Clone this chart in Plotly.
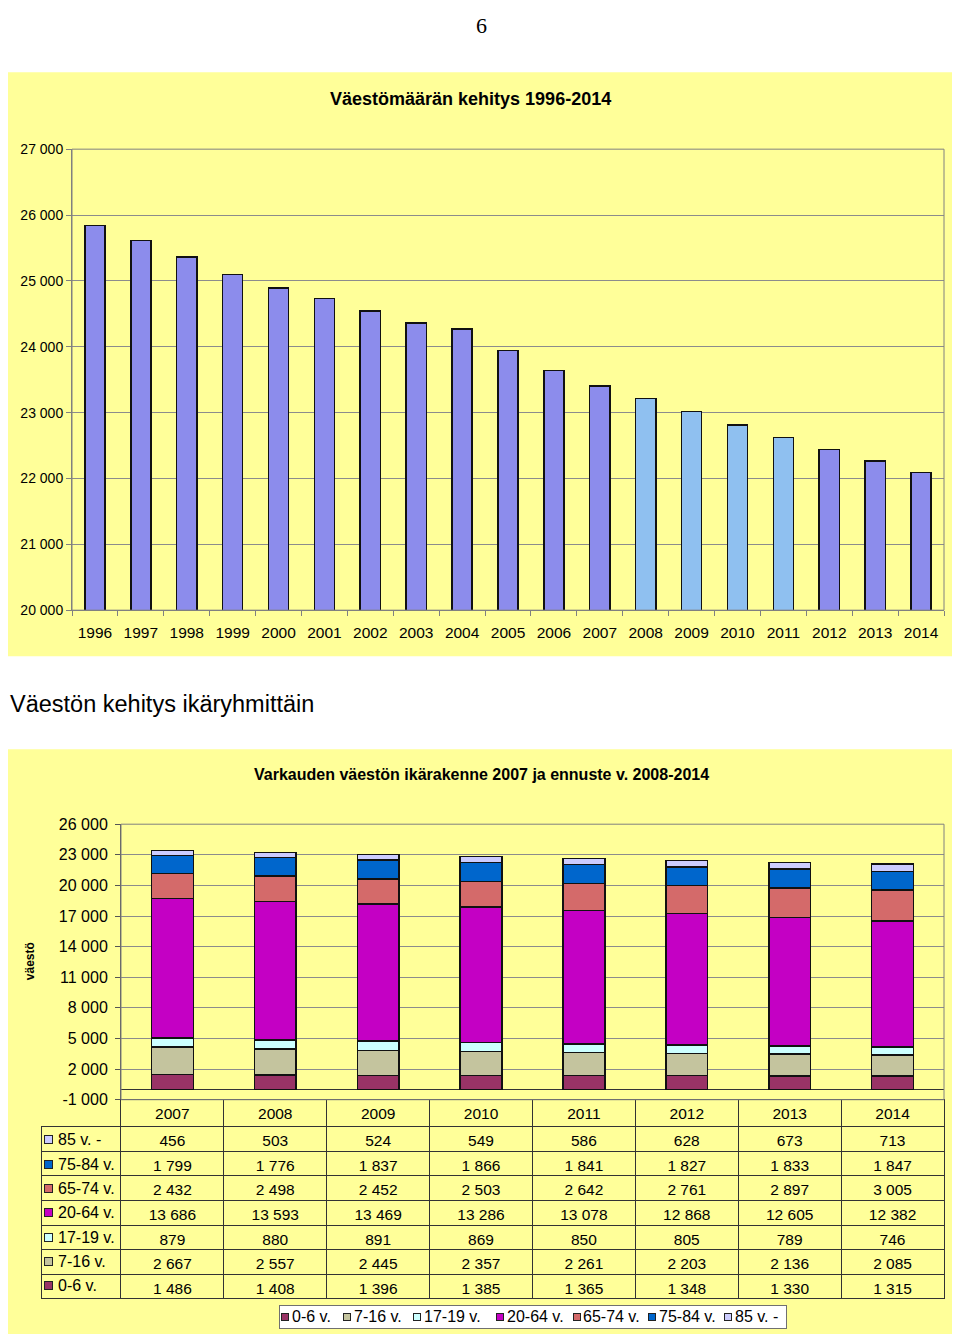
import plotly.graph_objects as go

# ---------------- data ----------------
years_top = ["1996", "1997", "1998", "1999", "2000", "2001", "2002", "2003", "2004", "2005",
             "2006", "2007", "2008", "2009", "2010", "2011", "2012", "2013", "2014"]
population = [25840, 25611, 25360, 25097, 24891, 24731, 24543, 24360, 24269, 23943,
              23640, 23405, 23215, 23014, 22815, 22623, 22440, 22263, 22093]
top_tickvals = [20000, 21000, 22000, 23000, 24000, 25000, 26000, 27000]
top_ticktext = ["20 000", "21 000", "22 000", "23 000", "24 000", "25 000", "26 000", "27 000"]

years_bottom = ["2007", "2008", "2009", "2010", "2011", "2012", "2013", "2014"]
age_groups = ["0-6 v.", "7-16 v.", "17-19 v.", "20-64 v.", "65-74 v.", "75-84 v.", "85 v. -"]
age_0_6 = [1486, 1408, 1396, 1385, 1365, 1348, 1330, 1315]
age_7_16 = [2667, 2557, 2445, 2357, 2261, 2203, 2136, 2085]
age_17_19 = [879, 880, 891, 869, 850, 805, 789, 746]
age_20_64 = [13686, 13593, 13469, 13286, 13078, 12868, 12605, 12382]
age_65_74 = [2432, 2498, 2452, 2503, 2642, 2761, 2897, 3005]
age_75_84 = [1799, 1776, 1837, 1866, 1841, 1827, 1833, 1847]
age_85 = [456, 503, 524, 549, 586, 628, 673, 713]
bottom_tickvals = [-1000, 2000, 5000, 8000, 11000, 14000, 17000, 20000, 23000, 26000]
bottom_ticktext = ["-1 000", "2 000", "5 000", "8 000", "11 000", "14 000", "17 000",
                   "20 000", "23 000", "26 000"]

# ---------------- styling / layout ----------------
OFF = 8                      # default body margin of the page
W, H = 960 - 2 * OFF, 1342 - 2 * OFF
VS, VB = 0.98714, 8.94       # measured vertical scale / shift of the photographed page
FONT = "Liberation Sans, Arial, sans-serif"
PANEL = "#FFFF99"
PLOTBG = "#FFFFCC"
GRID = "#8C8C8C"
series = [age_0_6, age_7_16, age_17_19, age_20_64, age_65_74, age_75_84, age_85]
colors = ["#993366", "#C4C49E", "#CCFFFF", "#C400C4", "#D46A6A", "#0066CC", "#CCCCFF"]

# legend item positions (page pixels): square left edge, text left edge
legend_sq_x = [281, 343, 413, 496, 573, 648, 724]
legend_tx_x = [290, 352, 422, 505, 581, 657, 733]
legend_y = 1317.5
# table geometry (page pixels)
TBL_TOP = 1100.5
HDR_H = 26.5
ROW_H = 24.3


def fx(p):
    return (p - OFF) / W


def fy(p):
    return 1 - ((p - VB) / VS - OFF) / H


def fmt(v):
    return f"{v:,}".replace(",", " ")


fig = go.Figure()

# top chart
bar_colors = ["#8FC0F0" if 2008 <= int(y) <= 2011 else "#8C8CEC" for y in years_top]
fig.add_trace(go.Bar(
    x=years_top, y=population, width=0.44,
    marker=dict(color=bar_colors, line=dict(color="#111111", width=1.5)),
    xaxis="x", yaxis="y", showlegend=False,
))

# bottom stacked chart
for name, vals, col in zip(age_groups, series, colors):
    fig.add_trace(go.Bar(
        x=years_bottom, y=vals, name=name, width=0.405,
        marker=dict(color=col, line=dict(color="#111111", width=1.5)),
        xaxis="x2", yaxis="y2", showlegend=False,
    ))

# data table under the bottom chart
rows_order = list(range(len(age_groups)))[::-1]
value_cols = [[fmt(series[i][j]) for i in rows_order] for j in range(len(years_bottom))]
fig.add_trace(go.Table(
    domain=dict(x=[fx(41), fx(944)], y=[fy(1303), fy(TBL_TOP)]),
    columnwidth=[80] + [103] * len(years_bottom),
    header=dict(
        values=[""] + years_bottom,
        height=HDR_H / VS,
        align="center",
        fill=dict(color=["rgba(0,0,0,0)"] + [PANEL] * len(years_bottom)),
        line=dict(color=["rgba(0,0,0,0)"] + ["#333333"] * len(years_bottom), width=1),
        font=dict(family=FONT, size=15.5, color="black"),
    ),
    cells=dict(
        values=[[""] * len(age_groups)] + value_cols,
        height=ROW_H / VS,
        align="center",
        fill=dict(color=PANEL),
        line=dict(color="#333333", width=1),
        font=dict(family=FONT, size=15.5, color="black"),
    ),
))

annotations = [
    dict(text="6", x=fx(481), y=fy(26), font=dict(family="Liberation Serif, serif", size=22)),
    dict(text="<b>Väestömäärän kehitys 1996-2014</b>", x=fx(470), y=fy(100), font=dict(size=18)),
    dict(text="Väestön kehitys ikäryhmittäin", x=fx(8), y=fy(705), xanchor="left",
         font=dict(size=23.5)),
    dict(text="<b>Varkauden väestön ikärakenne 2007 ja ennuste v. 2008-2014</b>",
         x=fx(481), y=fy(775), font=dict(size=16)),
    dict(text="<b>väestö</b>", x=fx(30), y=fy(962), textangle=-90, font=dict(size=12)),
    # legend box
    dict(text="\u00a0", x=fx(533), y=fy(legend_y), width=506, height=22,
         bgcolor="white", bordercolor="#707070", borderwidth=1, borderpad=0),
]

# row labels of the data table with colour keys
for r, i in enumerate(rows_order):
    yc = TBL_TOP + HDR_H + ROW_H * (r + 0.5) + 1.5
    annotations.append(dict(text="\u00a0", x=fx(44), y=fy(yc), xanchor="left", width=7, height=7,
                            bgcolor=colors[i], bordercolor="#222222", borderwidth=1,
                            borderpad=0, font=dict(size=6)))
    annotations.append(dict(text=age_groups[i], x=fx(56), y=fy(yc), xanchor="left",
                            font=dict(size=16)))

# bottom legend items
for i in range(len(age_groups)):
    annotations.append(dict(text="\u00a0", x=fx(legend_sq_x[i]), y=fy(legend_y), xanchor="left",
                            width=6, height=6, bgcolor=colors[i], bordercolor="#222222",
                            borderwidth=1, borderpad=0, font=dict(size=6)))
    annotations.append(dict(text=age_groups[i], x=fx(legend_tx_x[i]), y=fy(legend_y),
                            xanchor="left", font=dict(size=16)))

for a in annotations:
    a.setdefault("xref", "paper")
    a.setdefault("yref", "paper")
    a.setdefault("showarrow", False)
    a.setdefault("xanchor", "center")
    a.setdefault("yanchor", "middle")

fig.update_layout(
    width=W, height=H,
    margin=dict(l=0, r=0, t=0, b=0),
    paper_bgcolor="white",
    plot_bgcolor=PLOTBG,
    barmode="stack",
    font=dict(family=FONT, color="black"),
    xaxis=dict(
        domain=[fx(72), fx(944)], anchor="y", type="category",
        showline=True, linecolor="#808080", linewidth=1,
        ticks="outside", tickson="boundaries", ticklen=5, tickcolor="#808080",
        tickfont=dict(size=15.5), ticklabelstandoff=8, showgrid=False,
    ),
    yaxis=dict(
        domain=[fy(611), fy(150)], anchor="x", range=[20000, 27000],
        tickvals=top_tickvals, ticktext=top_ticktext,
        showline=True, linecolor="#808080", linewidth=1,
        ticks="outside", ticklen=5, tickcolor="#808080",
        gridcolor=GRID, gridwidth=1, zeroline=False,
        tickfont=dict(size=14),
    ),
    xaxis2=dict(
        domain=[fx(121), fx(944)], anchor="y2", type="category",
        showline=True, linecolor="#222222", linewidth=1,
        showticklabels=False, ticks="", showgrid=False,
    ),
    yaxis2=dict(
        domain=[fy(TBL_TOP), fy(825)], anchor="x2", range=[-1000, 26000],
        tickvals=bottom_tickvals, ticktext=bottom_ticktext,
        showline=True, linecolor="#555555", linewidth=1,
        ticks="outside", ticklen=5, tickcolor="#555555",
        gridcolor=GRID, gridwidth=1,
        zeroline=True, zerolinecolor="#333333", zerolinewidth=1,
        tickfont=dict(size=16), ticklabelstandoff=4,
    ),
    shapes=[
        dict(type="rect", xref="paper", yref="paper", x0=fx(7), x1=fx(955),
             y0=fy(657), y1=fy(73), fillcolor=PANEL, line=dict(width=0), layer="below"),
        dict(type="rect", xref="paper", yref="paper", x0=fx(7), x1=fx(955),
             y0=fy(1335), y1=fy(750), fillcolor=PANEL, line=dict(width=0), layer="below"),
        dict(type="rect", xref="x domain", yref="y domain", x0=0, x1=1, y0=0, y1=1,
             line=dict(color="#808080", width=1)),
        dict(type="rect", xref="x2 domain", yref="y2 domain", x0=0, x1=1, y0=0, y1=1,
             line=dict(color="#808080", width=1)),
    ],
    annotations=annotations,
)

fig.write_html("out.html")
